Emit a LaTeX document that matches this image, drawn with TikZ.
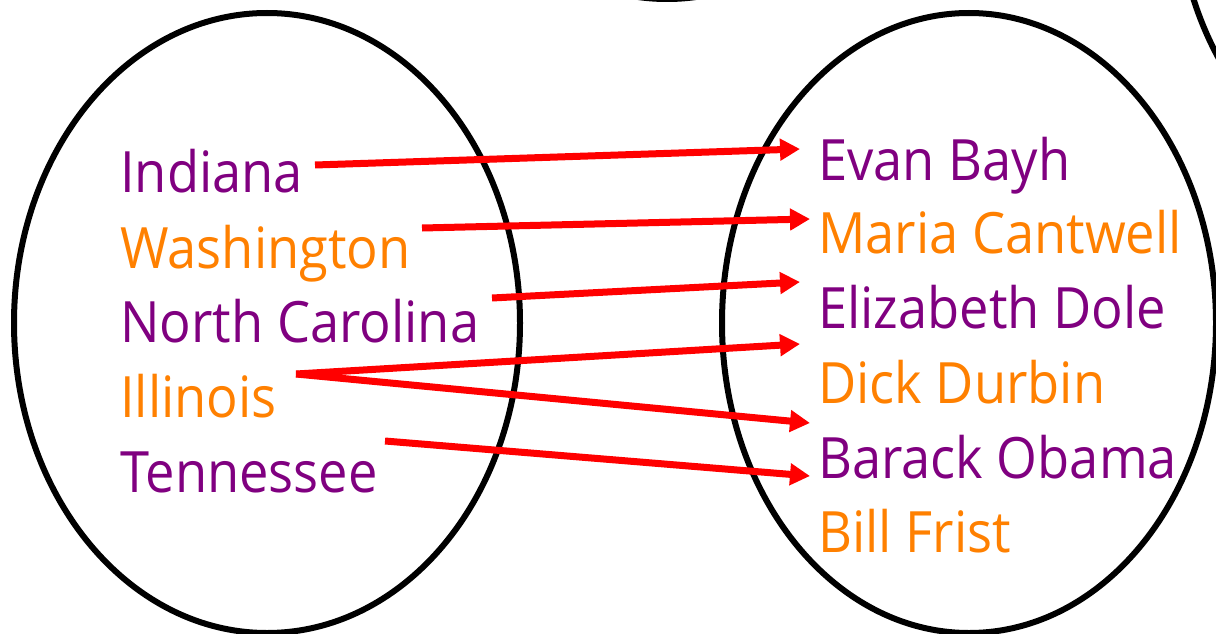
\documentclass[tikz,border=0pt]{standalone}
\usepackage{fontspec}
\setmainfont{Open Sans}[FakeStretch=0.92]
\usetikzlibrary{arrows.meta}
\definecolor{statepurple}{RGB}{128,0,128}
\definecolor{stateorange}{RGB}{255,128,0}
\definecolor{linkred}{RGB}{255,0,0}
\tikzset{
  setoval/.style={draw=black, line width=6pt},
  lbl/.style={anchor=base west, inner sep=0pt, font=\fontsize{57}{60}\selectfont},
  pname/.style={lbl, text=statepurple},
  oname/.style={lbl, text=stateorange},
  link/.style={draw=linkred, line width=7pt,
    -{Triangle[length=20pt,width=21pt]}},
}
\begin{document}
\begin{tikzpicture}[x=1pt,y=-1pt]
\useasboundingbox (0,0) rectangle (1216,634);
\begin{scope}
\clip (0,0) rectangle (1216,634);
% domain and codomain ovals
\draw[setoval] (267,323) ellipse [x radius=253, y radius=310];
\draw[setoval] (969,323) ellipse [x radius=247, y radius=310];
% neighbouring ovals, cut off by the frame
\draw[setoval] (667,-301) ellipse [x radius=250, y radius=300];
\draw[setoval] (1426,-115) ellipse [x radius=250, y radius=310];
\end{scope}
% states
\node[pname] (ind) at (120,192) {Indiana};
\node[oname] (was) at (120,268) {Washington};
\node[pname] (nca) at (120,342) {North Carolina};
\node[oname] (ill) at (120,417) {Illinois};
\node[pname] (ten) at (120,492) {Tennessee};
% senators
\node[pname] (bay) at (818,180) {Evan Bayh};
\node[oname] (can) at (818,253) {Maria Cantwell};
\node[pname] (dol) at (818,328) {Elizabeth Dole};
\node[oname] (dur) at (818,403) {Dick Durbin};
\node[pname] (oba) at (818,478) {Barack Obama};
\node[oname] (fri) at (818,552) {Bill Frist};
% arrow ends
\coordinate (s1) at (315,165);
\coordinate (s2) at (422,228);
\coordinate (s3) at (492,298);
\coordinate (s4) at (296,374);
\coordinate (s5) at (385,441);
\coordinate (t1) at (800,149);
\coordinate (t2) at (810,219);
\coordinate (t3) at (800,282);
\coordinate (t4) at (800,344);
\coordinate (t5) at (810,423);
\coordinate (t6) at (810,476);
\draw[link] (s1) -- (t1);
\draw[link] (s2) -- (t2);
\draw[link] (s3) -- (t3);
\draw[link] (s4) -- (t4);
\draw[link] (s4) -- (t5);
\draw[link] (s5) -- (t6);
\end{tikzpicture}
\end{document}
